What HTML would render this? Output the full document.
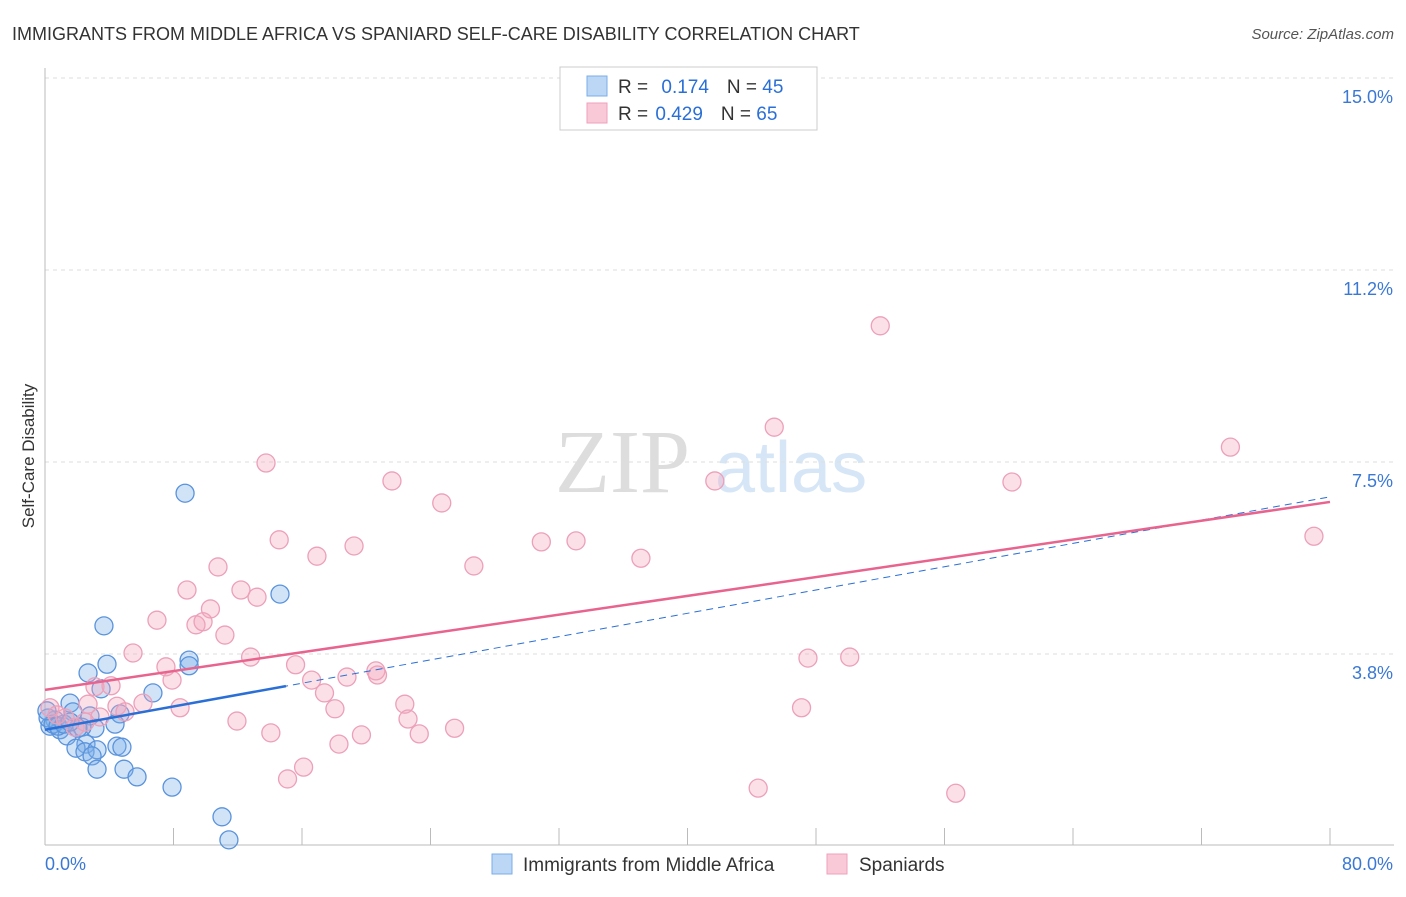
<!DOCTYPE html>
<html><head><meta charset="utf-8"><style>
body{margin:0;background:#fff;font-family:"Liberation Sans",sans-serif;}
</style></head><body>
<svg width="1406" height="892" xmlns="http://www.w3.org/2000/svg" id="chart" font-family="Liberation Sans, sans-serif">
<text x="12" y="40" font-size="18" fill="#333">IMMIGRANTS FROM MIDDLE AFRICA VS SPANIARD SELF-CARE DISABILITY CORRELATION CHART</text>
<text x="1394" y="39" font-size="15" fill="#555" font-style="italic" text-anchor="end">Source: ZipAtlas.com</text>
<text x="34" y="456" font-size="17" fill="#333" text-anchor="middle" transform="rotate(-90 34 456)">Self-Care Disability</text>
<text x="555" y="492" font-size="90" fill="#ddd" font-family="Liberation Serif, serif">ZIP</text>
<text x="715" y="492" font-size="72" fill="#d6e6f7">atlas</text>
<g id="grid"></g><g id="axes"></g><g id="pts"></g><g id="lines"></g>
<g>
<rect x="560" y="67" width="257" height="63" fill="#fff" stroke="#ccc"/>
<rect x="587" y="76" width="20" height="20" fill="#bcd6f6" stroke="#7aaee8"/>
<rect x="587" y="103" width="20" height="20" fill="#f9c9d8" stroke="#eea0ba"/>
<text x="618" y="93" font-size="19" fill="#333">R = <tspan fill="#2a6fd6" dx="8">0.174</tspan><tspan fill="#333" dx="18">N = </tspan><tspan fill="#2a6fd6">45</tspan></text>
<text x="618" y="120" font-size="19" fill="#333">R = <tspan fill="#2a6fd6" dx="2">0.429</tspan><tspan fill="#333" dx="18">N = </tspan><tspan fill="#2a6fd6">65</tspan></text>
</g>
<g>
<rect x="492" y="854" width="20" height="20" fill="#bcd6f6" stroke="#7aaee8"/>
<text x="523" y="871" font-size="19" fill="#333">Immigrants from Middle Africa</text>
<rect x="827" y="854" width="20" height="20" fill="#f9c9d8" stroke="#eea0ba"/>
<text x="859" y="871" font-size="19" fill="#333">Spaniards</text>
</g>
</svg>
<script>
const yTicks=[15.0,11.25,7.5,3.75];
const yTickLabels=["15.0%","11.2%","7.5%","3.8%"];
const xTicks=[0,8,16,24,32,40,48,56,64,72,80];
const xEndLabels=["0.0%","80.0%"];
const blueX=[8.72,14.63,3.67,3.86,2.68,8.97,8.97,6.72,3.49,1.56,1.74,2.80,4.67,4.36,3.11,2.30,0.62,0.31,0.93,1.37,2.05,2.55,1.93,2.49,3.24,2.93,4.48,4.79,3.24,4.92,5.73,7.91,11.02,11.45,0.19,0.50,0.81,1.18,1.56,0.12];
const blueY=[6.89,4.92,4.30,3.55,3.38,3.63,3.52,2.99,3.07,2.79,2.62,2.54,2.58,2.38,2.30,2.32,2.46,2.34,2.27,2.15,2.30,1.99,1.91,1.84,1.88,1.76,1.95,1.93,1.50,1.50,1.35,1.15,0.57,0.12,2.50,2.38,2.34,2.38,2.42,2.64];
const pinkX=[52.0,45.4,73.8,13.76,41.7,60.2,21.6,24.7,79.0,14.58,30.9,33.06,19.24,16.93,37.1,26.7,10.77,8.84,12.2,13.2,10.3,6.97,9.40,9.84,11.2,5.48,12.8,47.5,50.1,7.53,15.6,20.6,20.7,7.91,16.6,18.8,3.11,4.11,17.4,6.10,22.4,8.41,4.48,2.68,4.98,18.05,47.1,11.95,22.6,3.42,1.25,0.31,25.5,14.06,19.7,23.3,18.3,16.1,15.1,44.4,56.7,1.87,2.49,0.75];
const pinkY=[10.16,8.18,7.79,7.48,7.13,7.11,7.13,6.70,6.05,5.98,5.94,5.96,5.86,5.66,5.62,5.47,5.45,5.0,5.0,4.86,4.63,4.41,4.32,4.38,4.12,3.77,3.69,3.67,3.69,3.50,3.54,3.42,3.34,3.24,3.24,3.30,3.11,3.13,2.99,2.79,2.77,2.70,2.73,2.77,2.62,2.68,2.70,2.44,2.48,2.52,2.50,2.70,2.30,2.21,2.17,2.19,1.99,1.54,1.31,1.13,1.03,2.32,2.42,2.56];
const blueTrend=[2.27,6.82], blueSolidEnd=15;
const pinkTrend=[3.05,6.72];
const NS="http://www.w3.org/2000/svg";
const xs=v=>45+v*1285/80, ys=v=>78+(15-v)*51.2;
function mk(tag,attrs,parent){const e=document.createElementNS(NS,tag);for(const k in attrs)e.setAttribute(k,attrs[k]);document.getElementById(parent).appendChild(e);return e;}
yTicks.forEach((t,i)=>{
 const l=mk('line',{x1:45,x2:1394,y1:ys(t),y2:ys(t),stroke:'#ddd','stroke-dasharray':'4,4'},'grid');
 
 
 const tx=mk('text',{x:1393,y:ys(t)+25,'font-size':18,fill:'#3a78d4','text-anchor':'end'},'grid');
 tx.textContent=yTickLabels[i];
 
 
});
const ax=mk('line',{x1:45,x2:45,y1:68,y2:845,stroke:'#bbb'},'axes');


const bx=mk('line',{x1:45,x2:1394,y1:845,y2:845,stroke:'#bbb'},'axes');


xTicks.forEach(t=>{
 const l=mk('line',{x1:xs(t),x2:xs(t),y1:828,y2:845,stroke:'#bbb'},'axes');
 
 
});
const xl0=mk('text',{x:45,y:870,'font-size':18,fill:'#3a78d4'},'axes');xl0.textContent=xEndLabels[0];


const xl1=mk('text',{x:1393,y:870,'font-size':18,fill:'#3a78d4','text-anchor':'end'},'axes');xl1.textContent=xEndLabels[1];


blueX.forEach((x,i)=>{
 const c=mk('circle',{cx:xs(x),cy:ys(blueY[i]),r:9,fill:'rgba(122,174,232,0.35)',stroke:'#5a93dc','stroke-width':1.3},'pts');
 
 
});
pinkX.forEach((x,i)=>{
 const c=mk('circle',{cx:xs(x),cy:ys(pinkY[i]),r:9,fill:'rgba(244,166,189,0.35)',stroke:'#eca0b9','stroke-width':1.3},'pts');
 
 
});
const bAt=v=>blueTrend[0]+(blueTrend[1]-blueTrend[0])*v/80;
const bd=mk('line',{x1:xs(0),y1:ys(bAt(0)),x2:xs(80),y2:ys(bAt(80)),stroke:'#2a6fd6','stroke-width':1,'stroke-dasharray':'7,5'},'lines');


const bs=mk('line',{x1:xs(0),y1:ys(bAt(0)),x2:xs(blueSolidEnd),y2:ys(bAt(blueSolidEnd)),stroke:'#2a6fd6','stroke-width':2.5},'lines');


const pl=mk('line',{x1:xs(0),y1:ys(pinkTrend[0]),x2:xs(80),y2:ys(pinkTrend[1]),stroke:'#e8638e','stroke-width':2.5},'lines');


</script>
</body></html>
